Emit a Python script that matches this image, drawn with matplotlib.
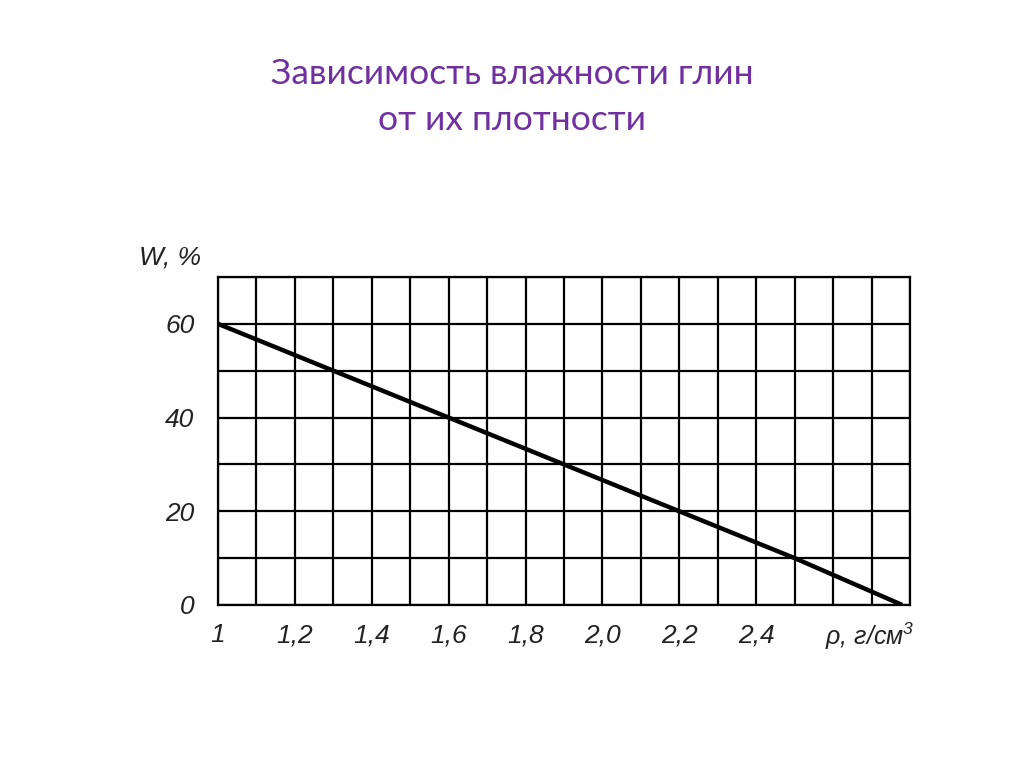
import numpy as np
import matplotlib
matplotlib.use("Agg")
import matplotlib.pyplot as plt

plt.rcParams["mathtext.fontset"] = "custom"
plt.rcParams["mathtext.rm"] = "Liberation Sans:italic"
plt.rcParams["mathtext.it"] = "Liberation Sans:italic"

# values
density = [1.0, 1.3, 1.6, 1.9, 2.2, 2.5, 2.78]
moisture = [60, 50, 40, 30, 20, 10, 0]
x_ticks = [1.0, 1.2, 1.4, 1.6, 1.8, 2.0, 2.2, 2.4]
x_labels = ["1", "1,2", "1,4", "1,6", "1,8", "2,0", "2,2", "2,4"]
y_ticks = [0, 20, 40, 60]
title = "Зависимость влажности глин\nот их плотности"

fig = plt.figure(figsize=(10.24, 7.67), dpi=100)
fig.patch.set_facecolor("white")

fig.text(0.5, 1 - 97 / 767, title, ha="center", va="center", color="#7030A0",
         fontsize=25.5, family="Lato", linespacing=1.5)

ax = fig.add_axes([218 / 1024, 1 - 605 / 767, 692 / 1024, 328 / 767])
ax.set_xlim(1.0, 2.8)
ax.set_ylim(0, 70)

# grid
for gx in np.arange(1.0, 2.81, 0.1):
    ax.axvline(gx, color="black", lw=1.6, zorder=1)
for gy in range(0, 71, 10):
    ax.axhline(gy, color="black", lw=1.6, zorder=1)

ax.plot(density, moisture, color="black", lw=3.2, solid_capstyle="butt", zorder=3)

for s in ax.spines.values():
    s.set_linewidth(1.6)

ax.set_xticks(x_ticks)
ax.set_xticklabels(x_labels)
ax.set_yticks(y_ticks)
ax.tick_params(length=0, labelsize=19)
ax.tick_params(axis="x", pad=13)
ax.tick_params(axis="y", pad=17)
for lab in ax.get_xticklabels() + ax.get_yticklabels():
    lab.set_fontstyle("italic")
    lab.set_family("Liberation Sans")
    lab.set_color("#222222")

ax.text(2.58, -3.4, "ρ, г/см$^{3}$", ha="left", va="top", fontsize=18,
        style="italic", family="Liberation Sans", color="#222222")
ax.text(-0.025, 71.7, "W, %", transform=ax.get_yaxis_transform(), ha="right",
        va="bottom", fontsize=19, style="italic", family="Liberation Sans",
        color="#222222")

fig.savefig("out.png", dpi=100)
